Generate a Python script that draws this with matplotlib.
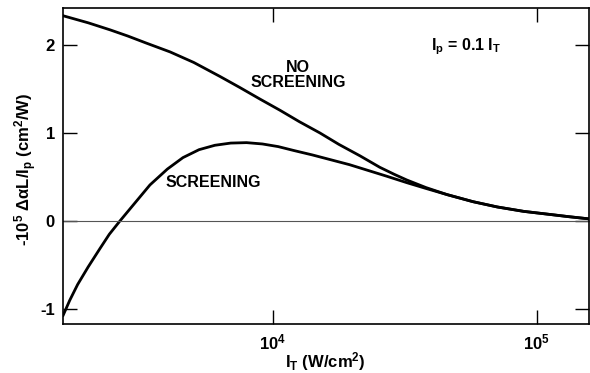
import matplotlib
matplotlib.use('Agg')
import matplotlib.pyplot as plt

plt.rcParams['font.family'] = ['Liberation Sans', 'DejaVu Sans']
plt.rcParams['font.weight'] = 'bold'
plt.rcParams['axes.labelweight'] = 'bold'
plt.rcParams['mathtext.fontset'] = 'custom'
plt.rcParams['mathtext.rm'] = 'Liberation Sans:bold'
plt.rcParams['mathtext.it'] = 'Liberation Sans:bold'
plt.rcParams['mathtext.bf'] = 'Liberation Sans:bold'
plt.rcParams['mathtext.default'] = 'rm'

# log10 of I_T (W/cm2) and curve values
log_it_scr = [3.205, 3.23, 3.26, 3.30, 3.345, 3.38, 3.42, 3.47, 3.534, 3.60,
              3.659, 3.72, 3.78, 3.84, 3.90, 3.96, 4.02, 4.08, 4.15, 4.22,
              4.29, 4.36, 4.43, 4.508, 4.58, 4.66, 4.758, 4.85, 4.95, 5.05,
              5.12, 5.197]
screening = [-1.07, -0.90, -0.72, -0.52, -0.31, -0.15, 0.00, 0.18, 0.41, 0.59,
             0.72, 0.81, 0.86, 0.885, 0.89, 0.875, 0.845, 0.80, 0.75, 0.695,
             0.64, 0.575, 0.51, 0.435, 0.37, 0.30, 0.22, 0.16, 0.11, 0.075,
             0.05, 0.025]

log_it_noscr = [3.205, 3.30, 3.383, 3.45, 3.52, 3.61, 3.70, 3.80, 3.875, 3.95,
                4.027, 4.10, 4.178, 4.25, 4.33, 4.405, 4.46, 4.508, 4.58, 4.66,
                4.758, 4.85, 4.95, 5.05, 5.12, 5.197]
no_screening = [2.33, 2.25, 2.17, 2.10, 2.02, 1.92, 1.80, 1.64, 1.515, 1.386,
                1.257, 1.128, 1.00, 0.87, 0.74, 0.61, 0.53, 0.465, 0.38, 0.30,
                0.22, 0.16, 0.11, 0.075, 0.05, 0.025]

fig = plt.figure(figsize=(5.9, 3.73), dpi=100)
ax = fig.add_axes([0.107, 0.131, 0.891, 0.848])

ax.plot([10 ** v for v in log_it_noscr], no_screening, color='black', lw=2)
ax.plot([10 ** v for v in log_it_scr], screening, color='black', lw=2)
ax.axhline(0, color='#555555', lw=0.8)

ax.set_xscale('log')
ax.set_xlim(10 ** 3.205, 10 ** 5.197)
ax.set_ylim(-1.17, 2.42)
ax.set_xticks([1e4, 1e5])
ax.set_xticklabels(['$10^4$', '$10^5$'])
ax.minorticks_off()
ax.set_yticks([-1, 0, 1, 2])
ax.set_yticklabels(['-1', '0', '1', '2'])
ax.tick_params(axis='both', direction='in', length=10, width=1,
               top=True, right=True, labelsize=12, pad=6)
for s in ax.spines.values():
    s.set_linewidth(1.2)

ax.set_xlabel('I$_T$ (W/cm$^2$)', fontsize=12)
ax.xaxis.set_label_coords(0.498, -0.082)
ax.set_ylabel('-10$^5$ $\\Delta\\alpha$L/I$_p$ (cm$^2$/W)', fontsize=12)
ax.yaxis.set_label_coords(-0.046, 0.49)

ax.text(0.505, 0.80, 'NO\nSCREENING', transform=fig.transFigure, ha='center',
        va='center', fontsize=11.5, linespacing=1.0)
ax.text(0.362, 0.512, 'SCREENING', transform=fig.transFigure, ha='center',
        va='center', fontsize=11.5)
ax.text(0.79, 0.875, 'I$_p$ = 0.1 I$_T$', transform=fig.transFigure, ha='center',
        va='center', fontsize=11.5)

plt.savefig('out.png', dpi=100)
